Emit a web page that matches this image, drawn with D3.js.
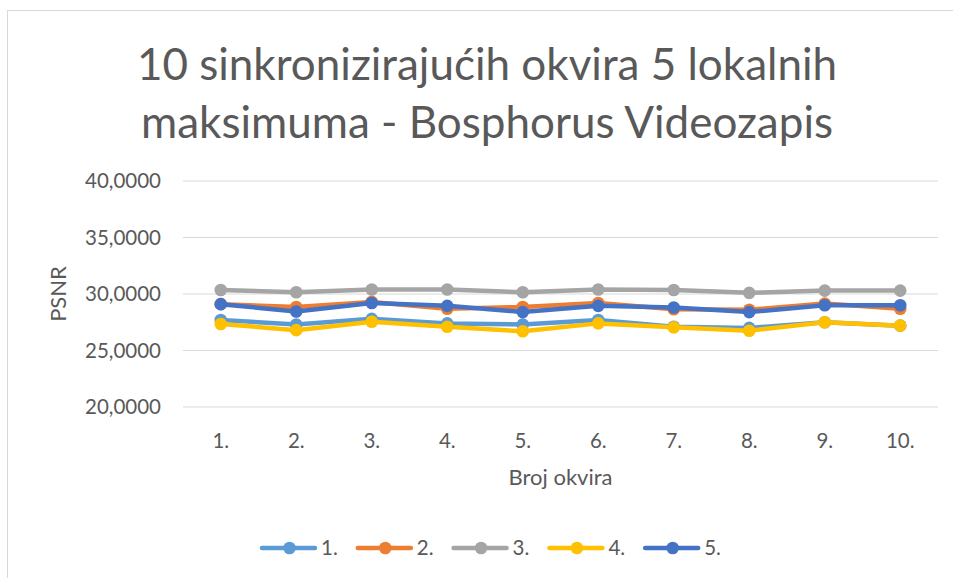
<!DOCTYPE html>
<html>
<head>
<meta charset="utf-8">
<script src="https://cdn.jsdelivr.net/npm/d3@7"></script>
<style>
  body { margin: 0; background: #fff; }
  text { font-family: Lato, "Open Sans", sans-serif; fill: #595959; }
</style>
</head>
<body>
<svg id="chart" width="953" height="578"></svg>
<script>
  const frames = ["1.", "2.", "3.", "4.", "5.", "6.", "7.", "8.", "9.", "10."];
  const seriesNames = ["1.", "2.", "3.", "4.", "5."];
  const s1 = [27.7, 27.3, 27.8, 27.4, 27.3, 27.7, 27.1, 27.0, 27.5, 27.2];
  const s2 = [29.1, 28.85, 29.3, 28.7, 28.85, 29.2, 28.65, 28.6, 29.15, 28.7];
  const s3 = [30.35, 30.15, 30.4, 30.4, 30.15, 30.4, 30.35, 30.1, 30.3, 30.3];
  const s4 = [27.35, 26.8, 27.55, 27.1, 26.7, 27.4, 27.05, 26.75, 27.5, 27.2];
  const s5 = [29.1, 28.45, 29.2, 28.95, 28.4, 28.95, 28.8, 28.4, 29.0, 29.0];
  const yTicks = [20, 25, 30, 35, 40];
  const colors = ["#5b9bd5", "#ed7d31", "#a5a5a5", "#ffc000", "#4472c4"];

  const allSeries = [s1, s2, s3, s4, s5];
  const svg = d3.select("#chart");

  // chart frame
  svg.append("rect")
    .attr("x", 7.5).attr("y", 10.5)
    .attr("width", 960).attr("height", 580)
    .attr("fill", "none").attr("stroke", "#d9d9d9");

  const plot = { left: 183, right: 938, top: 181, bottom: 407 };

  const x = d3.scaleBand().domain(frames).range([plot.left, plot.right]);
  const y = d3.scaleLinear().domain([20, 40]).range([plot.bottom, plot.top]);
  const cx = d => x(d) + x.bandwidth() / 2;

  // title
  const title = svg.append("text")
    .attr("text-anchor", "middle")
    .attr("font-size", 44);
  title.append("tspan").attr("x", 487).attr("y", 80).text("10 sinkronizirajućih okvira 5 lokalnih");
  title.append("tspan").attr("x", 487).attr("y", 138).text("maksimuma - Bosphorus Videozapis");

  // grid
  svg.append("g")
    .selectAll("line")
    .data(yTicks)
    .join("line")
    .attr("x1", plot.left).attr("x2", plot.right)
    .attr("y1", d => y(d)).attr("y2", d => y(d))
    .attr("stroke", "#d9d9d9").attr("stroke-width", 1);

  // y axis labels
  const fmt = d => d3.format(".4f")(d).replace(".", ",");
  svg.append("g")
    .selectAll("text")
    .data(yTicks)
    .join("text")
    .attr("x", 161).attr("y", d => y(d))
    .attr("dy", "0.35em")
    .attr("text-anchor", "end")
    .attr("font-size", 20.5)
    .text(fmt);

  // x axis labels
  svg.append("g")
    .selectAll("text")
    .data(frames)
    .join("text")
    .attr("x", d => cx(d)).attr("y", 441)
    .attr("dy", "0.35em")
    .attr("text-anchor", "middle")
    .attr("font-size", 20.5)
    .text(d => d);

  svg.append("text")
    .attr("x", (plot.left + plot.right) / 2).attr("y", 477)
    .attr("dy", "0.35em")
    .attr("text-anchor", "middle")
    .attr("font-size", 22)
    .text("Broj okvira");

  svg.append("text")
    .attr("transform", `translate(58,${(plot.top + plot.bottom) / 2}) rotate(-90)`)
    .attr("dy", "0.35em")
    .attr("text-anchor", "middle")
    .attr("font-size", 22)
    .text("PSNR");

  // series
  const line = d3.line()
    .x((d, i) => cx(frames[i]))
    .y(d => y(d));

  allSeries.forEach((vals, si) => {
    const g = svg.append("g");
    g.append("path")
      .datum(vals)
      .attr("d", line)
      .attr("fill", "none")
      .attr("stroke", colors[si])
      .attr("stroke-width", 4.5)
      .attr("stroke-linejoin", "round")
      .attr("stroke-linecap", "round");
    g.selectAll("circle")
      .data(vals)
      .join("circle")
      .attr("cx", (d, i) => cx(frames[i]))
      .attr("cy", d => y(d))
      .attr("r", 6.3)
      .attr("fill", colors[si]);
  });

  // legend
  const legendItemW = 95.8;
  const legend = svg.append("g");
  const legendStart = 262;
  seriesNames.forEach((name, i) => {
    const lx = legendStart + i * legendItemW;
    const ly = 548;
    legend.append("line")
      .attr("x1", lx).attr("x2", lx + 53)
      .attr("y1", ly).attr("y2", ly)
      .attr("stroke", colors[i]).attr("stroke-width", 4.5)
      .attr("stroke-linecap", "round");
    legend.append("circle")
      .attr("cx", lx + 27.5).attr("cy", ly).attr("r", 6.3)
      .attr("fill", colors[i]);
    legend.append("text")
      .attr("x", lx + 59).attr("y", ly)
      .attr("dy", "0.35em")
      .attr("font-size", 20.5)
      .text(name);
  });
</script>
</body>
</html>
